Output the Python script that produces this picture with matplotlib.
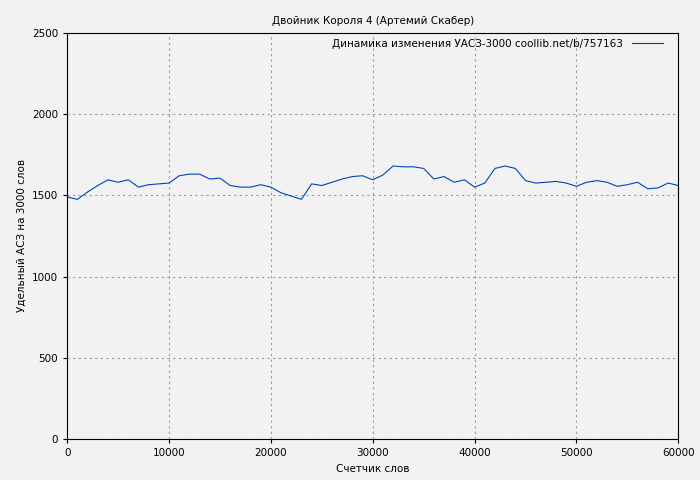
import matplotlib
matplotlib.use("Agg")
import matplotlib.pyplot as plt

words = list(range(0, 61000, 1000))
uasz = [1490, 1475, 1520, 1560, 1595, 1580, 1595, 1550, 1565, 1570,
        1575, 1620, 1630, 1630, 1600, 1605, 1560, 1550, 1550, 1565,
        1550, 1515, 1495, 1475, 1570, 1560, 1580, 1600, 1615, 1620,
        1595, 1625, 1680, 1675, 1675, 1665, 1600, 1615, 1580, 1595,
        1550, 1575, 1665, 1680, 1665, 1590, 1575, 1580, 1585, 1575,
        1555, 1580, 1590, 1580, 1555, 1565, 1580, 1540, 1545, 1575, 1560]

fig = plt.figure(figsize=(7, 4.8), dpi=100, facecolor="#f2f2f2")
ax = fig.add_axes([0.096, 0.085, 0.873, 0.847])
ax.set_facecolor("#f2f2f2")
ax.plot(words, uasz, color="#0044bb", lw=0.8,
        label="Динамика изменения УАСЗ-3000 coollib.net/b/757163")
ax.set_xlim(0, 60000)
ax.set_ylim(0, 2500)
ax.set_xticks(range(0, 60001, 10000))
ax.set_yticks(range(0, 2501, 500))
ax.grid(color="#999999", ls=(0, (2, 3)), lw=0.8)
ax.tick_params(labelsize=7.5, direction="out", length=3)
ax.set_xlabel("Счетчик слов", fontsize=7.5)
ax.set_ylabel("Удельный АСЗ на 3000 слов", fontsize=7.5)
ax.set_title("Двойник Короля 4 (Артемий Скабер)", fontsize=7.5)
leg = ax.legend(loc="upper right", fontsize=7.5, frameon=False, markerfirst=False,
                handlelength=3, borderaxespad=0.2, bbox_to_anchor=(0.985, 1.0))
fig.savefig("out.png", facecolor=fig.get_facecolor())
